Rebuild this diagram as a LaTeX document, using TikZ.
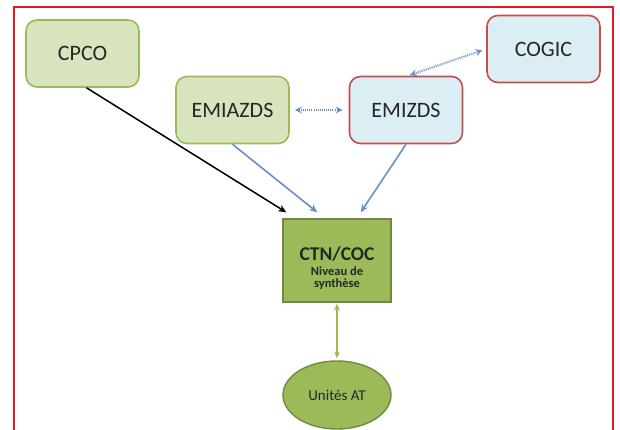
\documentclass[tikz,border=0pt]{standalone}
\usepackage{fontspec}
\setmainfont{Carlito}
\usetikzlibrary{arrows.meta,shapes.geometric,calc}
\definecolor{lgreen}{HTML}{D7E4BD}
\definecolor{mgreen}{HTML}{9BBB59}
\definecolor{dgreen}{HTML}{71893F}
\definecolor{lblue}{HTML}{DBEEF4}
\definecolor{bred}{HTML}{C0504D}
\definecolor{frred}{HTML}{E3191F}
\definecolor{arblue}{HTML}{6B8FC6}
\tikzset{
  gbox/.style={draw=mgreen, fill=lgreen, line width=1.6pt, rounded corners=11pt, minimum width=113pt, minimum height=67pt, font=\fontsize{22}{24}\selectfont, text=black!85},
  bbox/.style={draw=bred, fill=lblue, line width=1.6pt, rounded corners=11pt, minimum width=113pt, minimum height=67pt, font=\fontsize{22}{24}\selectfont, text=black!85},
  tip/.style={-{Stealth[length=8pt,width=7pt,inset=2.5pt]}},
  bline/.style={draw=arblue, line width=1.6pt},
  dline/.style={draw=arblue, line width=2pt, dash pattern=on 1pt off 1.1pt, {Stealth[length=7pt,width=7pt,inset=2.5pt]}-{Stealth[length=7pt,width=7pt,inset=2.5pt]}},
}
\begin{document}
\begin{tikzpicture}[x=1pt,y=-1pt]
\useasboundingbox (0,0) rectangle (620,430);
\clip (0,0) rectangle (620,430);
\fill[white] (0,0) rectangle (620,430);
\draw[frred, line width=1.5pt] (14,7) rectangle (613,450);
\node[gbox] (cpco) at (82.5,53.5) {CPCO};
\node[gbox] (emiazds) at (232.5,110) {EMIAZDS};
\node[bbox] (emizds) at (406,110) {EMIZDS};
\node[bbox] (cogic) at (543.5,49) {COGIC};
\node[draw=dgreen, fill=mgreen, line width=1.4pt, minimum width=108pt, minimum height=83pt] (ctn) at (337,260.5) {};
\node[align=center, text=black!85, font=\bfseries\fontsize{12.5}{12}\selectfont, inner sep=0pt] (ctntext) at ([yshift=-8]ctn.center)
  {{\fontsize{19.5}{18}\selectfont CTN/COC}\\[3pt]Niveau de\\synthèse};
\node[ellipse, draw=dgreen, fill=mgreen, line width=1.4pt, minimum width=108pt, minimum height=68pt, font=\fontsize{15}{16}\selectfont, text=black!85] (unites) at (337,395) {Unités AT};
\draw[black, line width=1.5pt, tip] ([xshift=4]cpco.south) -- ([shift={(4,-6)}]ctn.north west);
\draw[bline, tip] (emiazds.south) -- ([shift={(35,-6)}]ctn.north west);
\draw[bline, tip] (emizds.south) -- ([shift={(-31,-6)}]ctn.north east);
\draw[dline, shorten <=5pt, shorten >=6pt] (emiazds.east) -- (emizds.west);
\draw[dline, shorten <=2pt, shorten >=4pt] ([xshift=2]emizds.north) -- (cogic.west);
\draw[draw=mgreen, line width=1.8pt, {Stealth[length=7pt,width=6pt,inset=2.5pt]}-{Stealth[length=7pt,width=6pt,inset=2.5pt]}, shorten <=1pt, shorten >=2pt] (ctn.south) -- (unites.north);
\end{tikzpicture}
\end{document}
